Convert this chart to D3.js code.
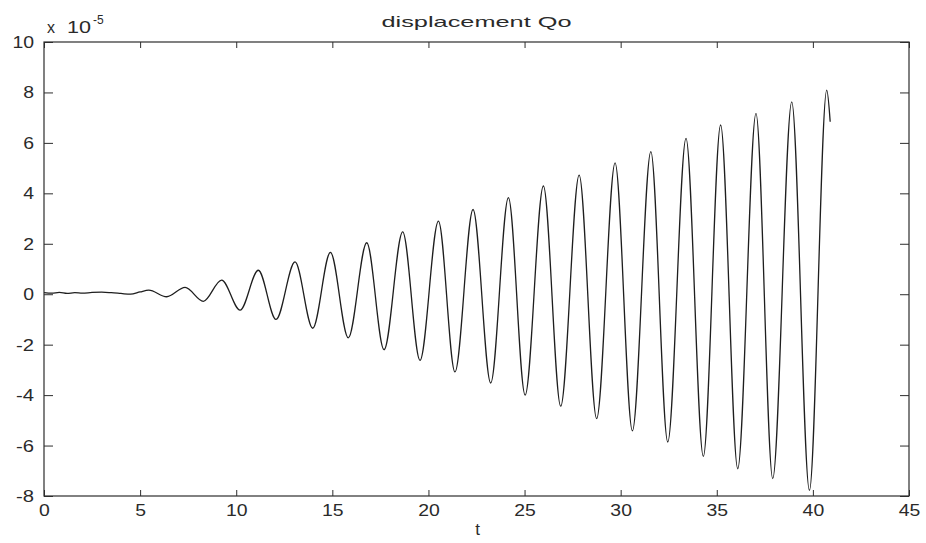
<!DOCTYPE html>
<html>
<head>
<meta charset="utf-8">
<script src="https://cdn.jsdelivr.net/npm/d3@7"></script>
<style>
  html, body { margin: 0; padding: 0; background: #ffffff; }
  svg { display: block; }
  text { font-family: "Liberation Sans", Arial, Helvetica, sans-serif; fill: #2a2a2a; }
</style>
</head>
<body>
<svg id="chart" width="926" height="543"></svg>
<script>
// Displacement Qo over time, values in units of 1e-5
const timeValues = [
  0, 0.4, 0.8, 1.2, 1.6, 2.0, 2.5, 3.0, 3.5, 4.0, 4.5, 5.0, 5.45, 6.38,
  7.34, 8.29, 9.24, 10.2, 11.15, 12.07, 13.06, 13.98, 14.9, 15.83,
  16.79, 17.69, 18.66, 19.56, 20.52, 21.38, 22.32, 23.24, 24.16, 25.03,
  25.98, 26.88, 27.84, 28.75, 29.71, 30.61, 31.57, 32.45, 33.4, 34.3,
  35.2, 36.09, 37.04, 37.91, 38.9, 39.82, 40.72, 40.9
];
const displacementValues = [
  0.06, 0.04, 0.07, 0.03, 0.06, 0.04, 0.07, 0.08, 0.06, 0.03, 0.0, 0.09, 0.16, -0.1,
  0.27, -0.28, 0.56, -0.63, 0.95, -1.0, 1.28, -1.35, 1.66, -1.73,
  2.04, -2.2, 2.47, -2.62, 2.9, -3.08, 3.36, -3.52, 3.83, -4.0,
  4.29, -4.44, 4.72, -4.93, 5.21, -5.42, 5.65, -5.86, 6.18, -6.43,
  6.71, -6.92, 7.17, -7.31, 7.63, -7.78, 8.09, 6.84
];
const xTicks = [0, 5, 10, 15, 20, 25, 30, 35, 40, 45];
const yTicks = [-8, -6, -4, -2, 0, 2, 4, 6, 8, 10];
const titleText = "displacement Qo";
const xLabelText = "t";

const svg = d3.select("#chart");
const plot = { left: 44, right: 909, top: 42, bottom: 496 };

const x = d3.scaleLinear().domain([0, 45]).range([plot.left, plot.right]);
const y = d3.scaleLinear().domain([-8, 10]).range([plot.bottom, plot.top]);

const axisColor = "#2e2e2e";

// Signal trace
const data = timeValues.map((t, i) => ({ t, v: displacementValues[i] }));
const line = d3.line()
  .x(d => x(d.t))
  .y(d => y(d.v))
  .curve(d3.curveMonotoneX);

svg.append("path")
  .datum(data)
  .attr("d", line)
  .attr("fill", "none")
  .attr("stroke", "#1e1e1e")
  .attr("stroke-width", 1.3);

// Axes with inward ticks on all four sides
function styleAxis(g) {
  g.select(".domain").remove();
  g.selectAll(".tick line").attr("stroke", axisColor).attr("stroke-width", 1);
  g.selectAll(".tick text").attr("fill", "#2a2a2a").style("font-size", "17px")
    .style("font-family", '"Liberation Sans", Arial, Helvetica, sans-serif');
}

// Plain hyphen for negative numbers
const plainLabel = d => String(d);

const bottomAxis = svg.append("g")
  .attr("transform", `translate(0,${plot.bottom})`)
  .call(d3.axisBottom(x).tickValues(xTicks).tickFormat(plainLabel).tickSizeInner(-6).tickSizeOuter(0).tickPadding(8))
  .call(styleAxis);
bottomAxis.selectAll(".tick text")
  .attr("textLength", d => String(d).length * 10.8)
  .attr("lengthAdjust", "spacingAndGlyphs");

svg.append("g")
  .attr("transform", `translate(0,${plot.top})`)
  .call(d3.axisTop(x).tickValues(xTicks).tickFormat("").tickSizeInner(-6).tickSizeOuter(0))
  .call(styleAxis);

const leftAxis = svg.append("g")
  .attr("transform", `translate(${plot.left},0)`)
  .call(d3.axisLeft(y).tickValues(yTicks).tickFormat(plainLabel).tickSizeInner(-9).tickSizeOuter(0).tickPadding(10))
  .call(styleAxis);
leftAxis.selectAll(".tick text")
  .attr("textLength", d => d < 0 ? 18 : String(d).length * 10.8)
  .attr("lengthAdjust", "spacingAndGlyphs");

svg.append("g")
  .attr("transform", `translate(${plot.right},0)`)
  .call(d3.axisRight(y).tickValues(yTicks).tickFormat("").tickSizeInner(-9).tickSizeOuter(0))
  .call(styleAxis);

// Axes box
svg.append("rect")
  .attr("x", plot.left)
  .attr("y", plot.top)
  .attr("width", plot.right - plot.left)
  .attr("height", plot.bottom - plot.top)
  .attr("fill", "none")
  .attr("stroke", axisColor)
  .attr("stroke-width", 1.2);

// Title
svg.append("text")
  .attr("x", (plot.left + plot.right) / 2)
  .attr("y", 27)
  .attr("text-anchor", "middle")
  .attr("textLength", 190)
  .attr("lengthAdjust", "spacingAndGlyphs")
  .style("font-size", "15px")
  .text(titleText);

// x-axis label
svg.append("text")
  .attr("x", (plot.left + plot.right) / 2 + 1)
  .attr("y", 535)
  .attr("text-anchor", "middle")
  .style("font-size", "17px")
  .text(xLabelText);

// Exponent multiplier for the y axis
const expo = svg.append("g");
expo.append("text").attr("x", 47).attr("y", 33).style("font-size", "16px").text("x");
expo.append("text").attr("x", 67).attr("y", 33).style("font-size", "17px")
  .attr("textLength", 24).attr("lengthAdjust", "spacingAndGlyphs").text("10");
expo.append("text").attr("x", 93).attr("y", 24).style("font-size", "12px").text("-5");
</script>
</body>
</html>
